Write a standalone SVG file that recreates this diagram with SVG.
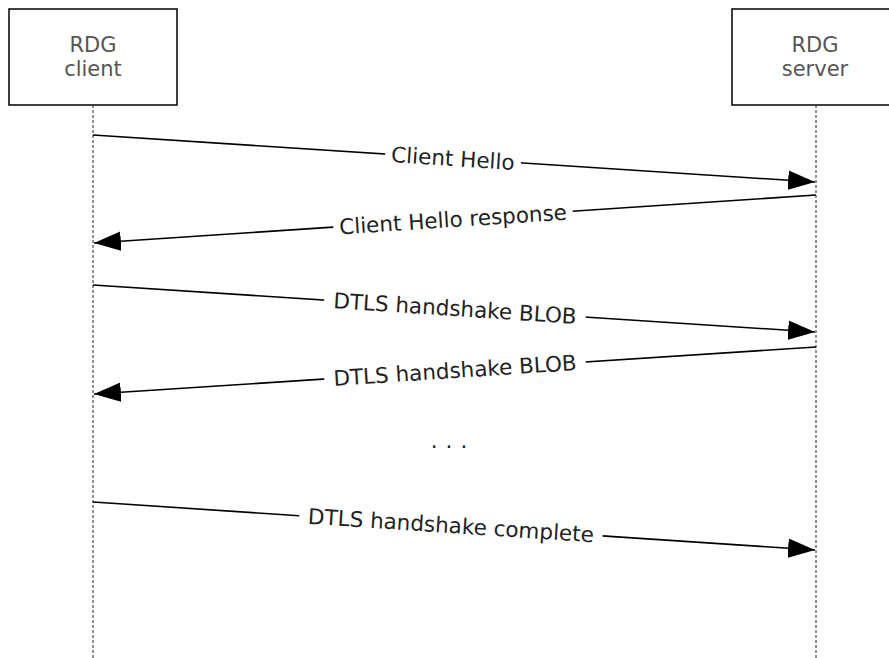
<svg xmlns="http://www.w3.org/2000/svg" width="889" height="658" viewBox="0 0 889 658">
<style>
.box{fill:#fff;stroke:#000;stroke-width:1.5}
.boxtxt{font-family:"DejaVu Sans",Verdana,sans-serif;font-size:21px;fill:#555;text-anchor:middle}
.life{stroke:#222;stroke-width:1;stroke-dasharray:3 2;fill:none}
.msg{stroke:#000;stroke-width:1.6;fill:none;marker-end:url(#ah)}
.lbl{font-family:"DejaVu Sans",Verdana,sans-serif;font-size:21.5px;fill:#222;text-anchor:middle;dominant-baseline:central}
.bg{fill:#fff}
</style>
<defs>
<marker id="ah" markerUnits="userSpaceOnUse" markerWidth="28" markerHeight="20" viewBox="0 0 26 18" refX="25" refY="9" orient="auto">
<path d="M0,0 L25,9 L0,18 Z" fill="#000"/>
</marker>
</defs>
<rect width="889" height="658" fill="#fff"/>
<g id="client">
<rect class="box" x="9" y="9" width="168" height="96"/>
<text class="boxtxt" x="93" y="52">RDG</text>
<text class="boxtxt" x="93" y="76">client</text>
</g>
<g id="server">
<rect class="box" x="732" y="9" width="168" height="96"/>
<text class="boxtxt" x="815" y="52">RDG</text>
<text class="boxtxt" x="815" y="76">server</text>
</g>
<g id="lifelines">
<line class="life" x1="93" y1="105" x2="93" y2="658"/>
<line class="life" x1="816" y1="105" x2="816" y2="658"/>
</g>
<g id="connectors">
<line class="msg" x1="93" y1="135" x2="815" y2="182"/>
<line class="msg" x1="816" y1="195" x2="94" y2="243"/>
<line class="msg" x1="93" y1="285" x2="815" y2="332"/>
<line class="msg" x1="816" y1="347" x2="94" y2="394"/>
<line class="msg" x1="93" y1="502" x2="815" y2="550"/>
</g>
<g id="labels">
<g transform="rotate(3.72 453 158.5)">
<rect class="bg" x="385" y="147" width="136" height="24"/>
<text class="lbl" x="453" y="158.5">Client Hello</text>
</g>
<g transform="rotate(-3.72 453 219.5)">
<rect class="bg" x="333" y="208" width="240" height="24"/>
<text class="lbl" x="453" y="219.5">Client Hello response</text>
</g>
<g transform="rotate(3.72 455 308.5)">
<rect class="bg" x="324" y="297" width="262" height="24"/>
<text class="lbl" x="455" y="308.5">DTLS handshake BLOB</text>
</g>
<g transform="rotate(-3.72 455 370.5)">
<rect class="bg" x="324" y="359" width="262" height="24"/>
<text class="lbl" x="455" y="370.5">DTLS handshake BLOB</text>
</g>
<g transform="rotate(3.72 451 525.5)">
<rect class="bg" x="299" y="514" width="304" height="24"/>
<text class="lbl" x="451" y="525.5">DTLS handshake complete</text>
</g>
<text class="lbl" x="453" y="440" letter-spacing="8">...</text>
</g>
</svg>
